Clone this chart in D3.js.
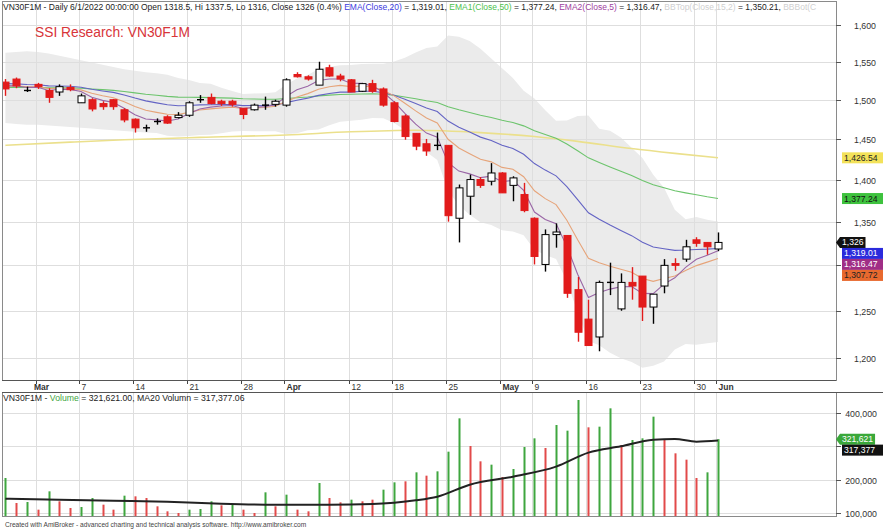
<!DOCTYPE html>
<html><head><meta charset="utf-8">
<script src="https://cdn.jsdelivr.net/npm/d3@7"></script>
<style>
html,body{margin:0;padding:0;background:#fff;}
svg{display:block;font-family:"Liberation Sans",Arial,sans-serif;}
</style></head><body>
<svg id="c" width="883" height="532"></svg>
<script>
// ---------------- DATA ----------------
const dates=["2022-02-24","2022-02-25","2022-02-28","2022-03-01","2022-03-02","2022-03-03","2022-03-04","2022-03-07","2022-03-08","2022-03-09","2022-03-10","2022-03-11","2022-03-14","2022-03-15","2022-03-16","2022-03-17","2022-03-18","2022-03-21","2022-03-22","2022-03-23","2022-03-24","2022-03-25","2022-03-28","2022-03-29","2022-03-30","2022-03-31","2022-04-01","2022-04-04","2022-04-05","2022-04-06","2022-04-07","2022-04-08","2022-04-12","2022-04-13","2022-04-14","2022-04-15","2022-04-18","2022-04-19","2022-04-20","2022-04-21","2022-04-22","2022-04-25","2022-04-26","2022-04-27","2022-04-28","2022-04-29","2022-05-04","2022-05-05","2022-05-06","2022-05-09","2022-05-10","2022-05-11","2022-05-12","2022-05-13","2022-05-16","2022-05-17","2022-05-18","2022-05-19","2022-05-20","2022-05-23","2022-05-24","2022-05-25","2022-05-26","2022-05-27","2022-05-30","2022-05-31","2022-06-01"];
const open =[1523,1527,1512,1520,1512,1510,1516,1496,1500,1495,1500,1487,1475,1464,1472,1478,1477,1480,1500,1503,1498,1498,1489,1487,1493,1494,1493,1533,1530,1519,1542,1531,1526,1511,1521,1514,1496,1479,1457,1444,1442,1442,1354,1380,1400,1398,1408,1393,1382,1354,1301,1335,1334,1273,1241,1222,1281,1252,1281,1288,1254,1277,1302,1307,1329,1326,1318.5];
const high =[1527,1529,1517,1522,1515,1520,1520,1508,1502,1498,1501,1489,1476,1468,1476,1480,1484,1498,1506,1508,1500,1500,1489,1495,1504,1500,1528,1536,1532,1550,1546,1534,1527,1522,1526,1516,1498,1481,1457,1450,1458,1442,1394,1406,1403,1420,1409,1404,1396,1355,1341,1348,1334,1287,1262,1283,1303,1291,1298,1288,1268,1307,1308,1329,1332,1326,1337.5];
const low  =[1505,1515,1510,1514,1496,1505,1511,1496,1485,1487,1487,1471,1458,1459,1468,1469,1476,1478,1496,1494,1492,1491,1475,1486,1487,1491,1491,1529,1525,1519,1530,1524,1510,1510,1509,1491,1471,1449,1436,1429,1436,1350,1326,1358,1390,1393,1384,1374,1361,1301,1293,1320,1264,1217,1213,1207,1267,1250,1262,1239,1236,1269,1294,1304,1321,1312,1316];
const close=[1514,1518,1512,1517,1503,1517,1513,1505,1488,1491,1491,1474,1464,1464,1472,1470,1480,1496,1500,1495,1495,1494,1481,1493,1493,1498,1526,1530,1527,1540,1531,1527,1510,1521,1511,1493,1472,1453,1441,1435,1442,1357,1390,1400,1393,1408,1384,1402,1363,1310,1335,1338,1269,1227,1213,1281,1281,1281,1277,1254,1268,1300,1300,1321,1325,1321,1326];

const ema5 =[1518,1518,1516,1516.3,1511.9,1513.6,1513.4,1510.6,1503.1,1499.1,1496.4,1488.9,1480.6,1475.1,1474.1,1472.7,1475.1,1482.1,1488.1,1490.4,1491.9,1492.6,1488.7,1490.1,1491.1,1493.4,1504.3,1512.9,1517.6,1525.1,1527.1,1527.1,1521.4,1521.3,1517.9,1509.6,1497.1,1482.4,1468.6,1457.4,1452.3,1420.5,1410.3,1406.9,1402.3,1404.2,1397.5,1399,1387,1361.3,1352.5,1347.7,1321.5,1290,1264.3,1269.9,1273.6,1276.1,1276.4,1268.9,1268.6,1279.1,1286.1,1297.7,1306.8,1311.5,1316.47];
const ema10=[1518,1518,1516.9,1516.9,1514.4,1514.9,1514.5,1512.8,1508.3,1505.1,1502.6,1497.4,1491.3,1486.3,1483.7,1481.2,1481.0,1483.7,1486.7,1488.2,1489.4,1490.3,1488.6,1489.4,1490.0,1491.5,1497.8,1503.6,1507.9,1513.7,1516.9,1518.7,1517.1,1517.8,1516.6,1512.3,1505.0,1495.5,1485.6,1476.4,1470.2,1449.6,1438.8,1431.7,1424.7,1421.6,1414.8,1412.5,1403.5,1386.5,1377.1,1370.0,1351.6,1329.0,1307.9,1303.0,1299.0,1295.7,1292.3,1285.4,1282.2,1285.4,1288.1,1294.1,1299.7,1303.6,1307.72];
const ema20=[1521,1520.7,1519.9,1519.6,1518.0,1517.9,1517.5,1516.3,1513.6,1511.4,1509.5,1506.1,1502.1,1498.5,1495.9,1493.5,1492.2,1492.5,1493.3,1493.4,1493.6,1493.6,1492.4,1492.5,1492.5,1493.0,1496.2,1499.4,1502.0,1505.6,1508.1,1509.9,1509.9,1510.9,1510.9,1509.2,1505.7,1500.7,1495.0,1489.3,1484.8,1472.6,1464.7,1458.6,1452.3,1448.1,1442.0,1438.2,1431.0,1419.5,1411.5,1404.5,1391.6,1375.9,1360.4,1352.8,1346.0,1339.8,1333.8,1326.2,1320.7,1318.7,1316.9,1317.3,1318.0,1318.3,1319.01];
const ema50=[1516,1516.1,1515.9,1516.0,1515.5,1515.5,1515.4,1515.0,1514.0,1513.1,1512.2,1510.7,1508.9,1507.1,1505.7,1504.3,1503.4,1503.1,1503.0,1502.7,1502.4,1502.0,1501.2,1500.9,1500.6,1500.5,1501.5,1502.6,1503.6,1505.0,1506.0,1506.8,1507.0,1507.5,1507.7,1507.1,1505.7,1503.6,1501.2,1498.6,1496.4,1490.9,1487.0,1483.6,1480.0,1477.2,1473.5,1470.7,1466.5,1460.4,1455.5,1450.9,1443.7,1435.2,1426.5,1420.8,1415.3,1410.1,1404.9,1399.0,1393.8,1390.1,1386.6,1384.0,1381.7,1379.3,1377.24];
// long yellow average, read at sample bars: [bar index, value]
const emaLongPts=[[0,1442],[6,1446],[11,1449],[18,1452],[26,1455],[32,1459],[38,1461],[44,1458],[49,1453],[53,1447],[58,1438],[62,1432],[66,1426.54]];
const bbTop=[1562,1563,1564,1563,1561,1558,1555,1552,1549,1546,1543,1540,1538,1536,1534.8,1532.7,1528.3,1525.7,1521.9,1520.8,1515.7,1511.3,1507.5,1508.2,1508.5,1509.6,1519.9,1527.7,1532.5,1540.4,1543.3,1545.2,1545.5,1547.1,1547.2,1547.3,1550.2,1555.5,1562.5,1568.4,1570.7,1585.6,1583.9,1578.2,1567.4,1554.4,1541.3,1528.5,1511.5,1501.5,1486.4,1473.1,1473.4,1478.9,1479.7,1462.8,1460.3,1451.7,1439.1,1426.4,1405.7,1390.1,1364.1,1352.7,1355.5,1352.1,1350.21];
const bbBot=[1470,1469,1468,1468,1467,1466,1465,1464,1463,1462,1461,1460,1459,1458,1457.6,1453.9,1453.1,1453.7,1455.1,1455.2,1457.3,1459.3,1459.9,1459.8,1459.8,1459.6,1456.3,1457.3,1460.9,1462.0,1467.3,1471.6,1473.1,1474.3,1476.4,1476.1,1470.2,1461.1,1447.3,1433.6,1423.8,1386.4,1369.4,1358.2,1349.4,1346.0,1340.1,1338.5,1334.3,1317.5,1311.6,1307.1,1282.2,1248.1,1217.7,1213.2,1205.5,1199.7,1195.9,1190.0,1192.1,1196.5,1208.9,1214.7,1213.9,1215.3,1216.7];

const volume=[205000,130000,133000,110000,165000,135000,115000,118000,145000,125000,110000,152000,150000,145000,120000,105000,100000,110000,112000,135000,123000,126000,110000,100000,162000,120000,155000,110000,105000,190000,145000,132000,140000,135000,140000,170000,192000,195000,222000,212000,225000,284000,384000,301000,255000,245000,208000,232000,298000,324000,295000,364000,347000,439000,357000,359000,414000,304000,319000,324000,389000,319000,279000,260000,205000,222000,321621];
const volUp=[1,0,1,0,1,0,0,1,1,0,0,1,0,0,0,0,0,1,1,1,0,1,0,0,1,0,1,0,0,1,0,0,1,0,0,1,1,0,1,0,1,1,1,0,0,1,0,1,1,1,0,1,1,1,0,1,1,0,1,1,1,0,0,0,0,1,1];
const volMA20Pts=[[0,143000],[5,140000],[10,137000],[15,134000],[20,128000],[25,125000],[30,125000],[34,127000],[36,131000],[38,138000],[40,149000],[43,185000],[47,209000],[51,239000],[54,281000],[57,300000],[60,320000],[62,322000],[64,314000],[66,317377.06]];

const priceTicks=[1200,1250,1300,1350,1400,1450,1500,1550,1600];
const volTicks=[100000,200000,300000,400000];
const dateTicks=[["2022-03-01","Mar",1],["2022-03-07","7",0],["2022-03-14","14",0],["2022-03-21","21",0],["2022-03-28","28",0],["2022-04-01","Apr",1],["2022-04-12","12",0],["2022-04-18","18",0],["2022-04-25","25",0],["2022-05-04","May",1],["2022-05-09","9",0],["2022-05-16","16",0],["2022-05-23","23",0],["2022-05-30","30",0],["2022-06-01","Jun",1]];

// ---------------- LAYOUT ----------------
const svg=d3.select("#c");
const L=2,R=836,T=1,B=380,VT=392,VB=516;
const n=dates.length, last=n-1;
const x=d3.scalePoint().domain(dates).range([5.4,718]);
const y=d3.scaleLog().domain([1200,1600]).range([358,25]);
const yv=d3.scaleLinear().domain([100000,400000]).range([513,413]);
const xi=i=>x(dates[i]);
const fmt2=d3.format(",.2f"), fmt0=d3.format(",");

svg.append("rect").attr("width",883).attr("height",532).attr("fill","#fff");
const defs=svg.append("defs");
defs.append("clipPath").attr("id","cm").append("rect").attr("x",L).attr("y",T).attr("width",R-L).attr("height",B-T);
defs.append("clipPath").attr("id","cv").append("rect").attr("x",L).attr("y",VT).attr("width",R-L).attr("height",VB-VT);
defs.append("clipPath").attr("id","ct").append("rect").attr("x",0).attr("y",0).attr("width",R-1).attr("height",20);

const gm=svg.append("g").attr("clip-path","url(#cm)");
const gv=svg.append("g").attr("clip-path","url(#cv)");

// Bollinger band
gm.append("path").datum(d3.range(n))
  .attr("d",d3.area().x(i=>xi(i)).y0(i=>y(bbBot[i])).y1(i=>y(bbTop[i])))
  .attr("fill","#ebebeb");

// grid
const gridC="#dedede";
gm.selectAll(".hg").data(priceTicks).join("line").attr("x1",L).attr("x2",R)
  .attr("y1",d=>Math.round(y(d))+0.5).attr("y2",d=>Math.round(y(d))+0.5).attr("stroke",gridC);
gv.selectAll(".hv").data(volTicks).join("line").attr("x1",L).attr("x2",R)
  .attr("y1",d=>Math.round(yv(d))+0.5).attr("y2",d=>Math.round(yv(d))+0.5).attr("stroke",gridC);
[gm,gv].forEach(g=>g.selectAll(".vg").data(dateTicks).join("line")
  .attr("x1",d=>Math.round(x(d[0]))-1.5).attr("x2",d=>Math.round(x(d[0]))-1.5)
  .attr("y1",0).attr("y2",532).attr("stroke",gridC));

// lines
const lineArr=d3.line().x((d,i)=>xi(i)).y(d=>y(d));
const linePts=d3.line().x(d=>xi(d[0])).y(d=>y(d[1])).curve(d3.curveMonotoneX);
gm.append("path").datum(emaLongPts).attr("d",linePts).attr("fill","none").attr("stroke","#ebe08c").attr("stroke-width",1.6);
gm.append("path").datum(ema50).attr("d",lineArr).attr("fill","none").attr("stroke","#6cc46c").attr("stroke-width",1.1);
gm.append("path").datum(ema20).attr("d",lineArr).attr("fill","none").attr("stroke","#6464c4").attr("stroke-width",1.1);
gm.append("path").datum(ema10).attr("d",lineArr).attr("fill","none").attr("stroke","#e6a47a").attr("stroke-width",1.1);
gm.append("path").datum(ema5).attr("d",lineArr).attr("fill","none").attr("stroke","#9a66a6").attr("stroke-width",1.1);

// candles
const RED="#e21b1b";
const bw=7;
d3.range(n).forEach(i=>{
  const cx=Math.round(xi(i))+0.5, o=open[i], c=close[i];
  const up=c>o, dn=c<o;
  const col=dn?RED:"#000";
  gm.append("line").attr("x1",cx).attr("x2",cx).attr("y1",y(high[i])).attr("y2",y(low[i])).attr("stroke",col).attr("stroke-width",1.4);
  if(up||dn){
    const yt=y(Math.max(o,c)), yb=y(Math.min(o,c));
    gm.append("rect").attr("x",cx-bw/2).attr("y",yt).attr("width",bw).attr("height",Math.max(1,yb-yt))
      .attr("fill",up?"#fff":RED).attr("stroke",up?"#000":RED).attr("stroke-width",1);
  } else {
    gm.append("line").attr("x1",cx-bw/2).attr("x2",cx+bw/2).attr("y1",y(c)).attr("y2",y(c)).attr("stroke","#000").attr("stroke-width",1.4);
  }
});

// volume bars
gv.selectAll(".vb").data(d3.range(n)).join("rect")
  .attr("x",i=>Math.round(xi(i))-0.5).attr("width",2)
  .attr("y",i=>yv(volume[i])).attr("height",i=>VB+2-yv(volume[i]))
  .attr("fill",i=>volUp[i]?"#3fa63f":"#e24a4a");
gv.append("path").datum(volMA20Pts)
  .attr("d",d3.line().x(d=>xi(d[0])).y(d=>yv(d[1])).curve(d3.curveMonotoneX))
  .attr("fill","none").attr("stroke","#222").attr("stroke-width",2);

// frames
const frameC="#8a8a8a";
svg.append("rect").attr("x",L+0.5).attr("y",T+0.5).attr("width",R-L).attr("height",B-T).attr("fill","none").attr("stroke",frameC);
svg.append("rect").attr("x",L+0.5).attr("y",VT+0.5).attr("width",R-L).attr("height",VB-VT).attr("fill","none").attr("stroke",frameC);
svg.append("line").attr("x1",L).attr("x2",R).attr("y1",B+0.5).attr("y2",B+0.5).attr("stroke","#555");
svg.append("line").attr("x1",L).attr("x2",883).attr("y1",VT+0.5).attr("y2",VT+0.5).attr("stroke","#555");

// date axis
const da=svg.append("g");
dateTicks.forEach(d=>{
  const px=Math.round(x(d[0]));
  da.append("line").attr("x1",px-1.5).attr("x2",px-1.5).attr("y1",B+1).attr("y2",B+4).attr("stroke","#444");
  da.append("text").attr("x",d[1]==="Mar"?px-4:px+0.5).attr("y",389.5).attr("font-size",8.5).attr("font-weight",d[2]?"bold":"normal")
    .attr("fill","#333").text(d[1]);
});

// value labels (computed first so colliding tick labels can be hidden, as in the reference)
function stack(items,gap){
  items.sort((a,b)=>a.y-b.y);
  let prev=-1e9;
  items.forEach(it=>{ it.yy=Math.max(it.y,prev+gap); prev=it.yy; });
  return items;
}
const lastLong=emaLongPts[emaLongPts.length-1][1];
const priceLabels=stack([
  {y:y(lastLong),text:fmt2(lastLong),bg:"#f3e25a",fg:"#222"},
  {y:y(ema50[last]),text:fmt2(ema50[last]),bg:"#3ec23e",fg:"#111"},
  {y:y(close[last]),text:fmt0(close[last]),bg:"#111",fg:"#fff",arrow:true},
  {y:y(ema20[last]),text:fmt2(ema20[last]),bg:"#2b2bdc",fg:"#fff"},
  {y:y(ema5[last]),text:fmt2(ema5[last]),bg:"#a02e86",fg:"#fff"},
  {y:y(ema10[last]),text:fmt2(ema10[last]),bg:"#e8692e",fg:"#222"}
],11);
const lastMA=volMA20Pts[volMA20Pts.length-1][1];
const volLabels=stack([
  {y:yv(volume[last]),text:fmt0(volume[last]),bg:"#3aa83a",fg:"#fff",arrow:true},
  {y:yv(lastMA),text:fmt0(Math.round(lastMA)),bg:"#111",fg:"#fff"}
],11);
const taken=priceLabels.concat(volLabels).map(d=>d.yy);
const free=py=>taken.every(t=>Math.abs(t-py)>9);

// right axis
const ax=svg.append("g").attr("font-size",8.8).attr("fill","#333").attr("text-anchor","end");
priceTicks.forEach(v=>{
  const py=Math.round(y(v))+0.5;
  ax.append("line").attr("x1",R).attr("x2",R+5).attr("y1",py).attr("y2",py).attr("stroke","#555");
  if(free(py)) ax.append("text").attr("x",876).attr("y",py+3).text(fmt0(v));
});
volTicks.forEach(v=>{
  const py=Math.round(yv(v))+0.5;
  ax.append("line").attr("x1",R).attr("x2",R+5).attr("y1",py).attr("y2",py).attr("stroke","#555");
  if(free(py)) ax.append("text").attr("x",877).attr("y",py+3).text(fmt0(v));
});

function drawLabels(items){
  items.forEach(it=>{
    const g=svg.append("g");
    const t=g.append("text").attr("font-size",8.6).attr("fill",it.fg).attr("x",R+(it.arrow?6:8)).attr("y",it.yy+3).text(it.text);
    const w=t.node().getComputedTextLength();
    const x0=R+(it.arrow?4:6), x1=it.arrow?x0+w+4:883;
    if(it.arrow){
      g.insert("path","text").attr("d",`M${R},${it.y} L${x0},${it.yy-5.5} L${x1},${it.yy-5.5} L${x1},${it.yy+5.5} L${x0},${it.yy+5.5} Z`).attr("fill",it.bg);
    } else {
      g.insert("rect","text").attr("x",x0).attr("y",it.yy-5.5).attr("width",x1-x0).attr("height",11).attr("fill",it.bg);
    }
  });
}
drawLabels(priceLabels);
drawLabels(volLabels);

// titles
function segText(parent,xp,yp,size,segs){
  const t=parent.append("text").attr("x",xp).attr("y",yp).attr("font-size",size);
  segs.forEach(s=>t.append("tspan").attr("fill",s[1]).text(s[0]));
  return t;
}
const pct=((close[last]-close[last-1])/close[last-1]*100).toFixed(1);
const gt=svg.append("g").attr("clip-path","url(#ct)");
segText(gt,3,9.5,8.5,[
  [`VN30F1M - Daily 6/1/2022 00:00:00 Open ${open[last]}, Hi ${high[last]}, Lo ${low[last]}, Close ${close[last]} (${pct}%) `,"#222"],
  ["EMA(Close,20)","#3b3be0"],[` = ${fmt2(ema20[last])}, `,"#222"],
  ["EMA1(Close,50)","#4dc24d"],[` = ${fmt2(ema50[last])}, `,"#222"],
  ["EMA2(Close,5)","#a03ea0"],[` = ${fmt2(ema5[last])}, `,"#222"],
  ["BBTop(Close,15,2)","#cfcfcf"],[` = ${fmt2(bbTop[last])}, `,"#222"],
  ["BBBot(C","#cfcfcf"]
]);
svg.append("text").attr("x",35).attr("y",37).attr("font-size",13.8).attr("fill","#d8353a").text("SSI Research: VN30F1M");
segText(svg,3,400.5,8.7,[["VN30F1M - ","#222"],["Volume","#3fa63f"],[` = ${fmt2(volume[last])}, MA20 Volumn = ${fmt2(lastMA)}`,"#222"]]);
svg.append("text").attr("x",5).attr("y",527).attr("font-size",6.6).attr("fill","#444")
  .text("Created with AmiBroker - advanced charting and technical analysis software. http://www.amibroker.com");
</script>
</body></html>
